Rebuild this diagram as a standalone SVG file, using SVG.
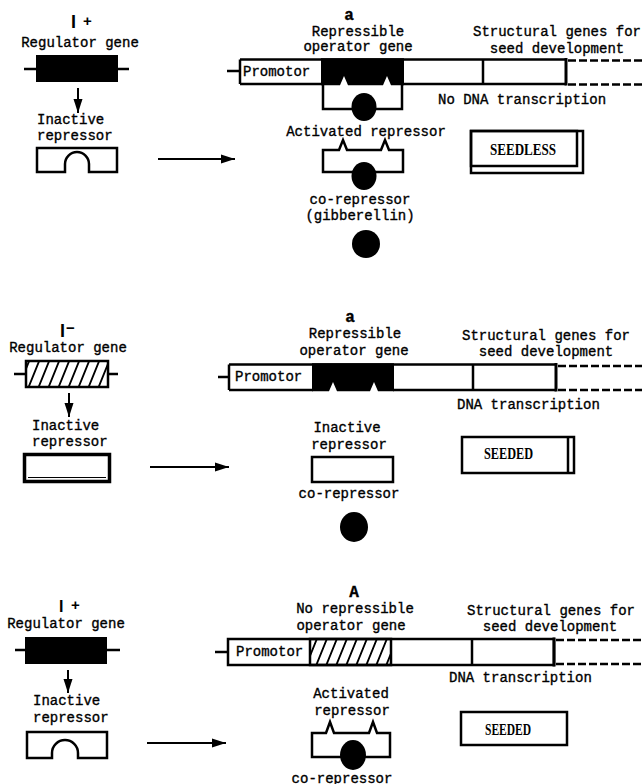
<svg xmlns="http://www.w3.org/2000/svg" width="642" height="784" viewBox="0 0 642 784">
<defs>
<style>
.t{font-family:"Liberation Mono","Courier New",monospace;font-size:14px;fill:#000;stroke:#000;stroke-width:0.35}
.m{text-anchor:middle}
.b{font-weight:bold;font-size:16px}
.g{font-family:"Liberation Sans",Arial,sans-serif;font-weight:bold;fill:#000}
.s{font-family:"Liberation Serif","Times New Roman",serif;font-weight:bold;font-size:16px;fill:#000}
.ln{fill:none;stroke:#000;stroke-width:2.5}
.bx{fill:#fff;stroke:#000;stroke-width:2.5}
.dsh{fill:none;stroke:#000;stroke-width:2.5;stroke-dasharray:8 3}
.cn{fill:none;stroke:#000;stroke-width:2}
</style>
<marker id="ah" markerUnits="userSpaceOnUse" markerWidth="14" markerHeight="10" refX="14" refY="5" orient="auto"><path d="M0,0.5 L14,5 L0,9.5 Z" fill="#000"/></marker>
<pattern id="hatch" width="10" height="10" patternUnits="userSpaceOnUse" patternTransform="skewX(-22)"><path d="M5,-1 V11" stroke="#000" stroke-width="2"/></pattern>
</defs>
<rect width="642" height="784" fill="#fff"/>

<!-- ================= Panel 1 ================= -->
<g id="p1-reg">
<text class="g" x="71" y="28" font-size="18">I<tspan x="83" y="26" font-size="15">+</tspan></text>
<text class="t m" x="80" y="47">Regulator gene</text>
<path class="ln" d="M24,69 H36 M118,69 H129"/>
<rect x="36" y="55" width="82" height="27" fill="#000"/>
</g>
<g id="p1-inrep">
<text class="t" x="37" y="124">Inactive</text>
<text class="t" x="37" y="140">repressor</text>
<path class="ln" d="M37,148 H117 V172 H89 V164 A12,12 0 0 0 65,164 V172 H37 Z"/>
</g>
<g id="p1-dna">
<text class="t m b" x="349" y="20">a</text>
<text class="t m" x="358" y="36">Repressible</text>
<text class="t m" x="358" y="51">operator gene</text>
<text class="t m" x="557" y="36">Structural genes for</text>
<text class="t m" x="557" y="53">seed development</text>
<path class="ln" d="M227,71 H240 M240,59.5 H566 M240,84 H322 M403,84 H566 M240,59.5 V84 M483,59.5 V84"/>
<path d="M566,58 V85.5" stroke="#000" stroke-width="3"/>
<path class="dsh" d="M568,60.5 H642 M568,84.5 H642"/>
<text class="t" x="243" y="76">Promotor</text>
<path d="M321,58.3 H404 V85.3 H391 L387,76 L383,85.3 H348 L344,76 L340,85.3 H321 Z" fill="#000"/>
<text class="t" x="438" y="104">No DNA transcription</text>
</g>
<g id="p1-bound">
<path class="ln" d="M323,84 V109 H402 V84"/>
<ellipse cx="364" cy="107" rx="12.5" ry="14" fill="#000"/>
</g>
<g id="p1-actrep">
<text class="t m" x="366" y="136">Activated repressor</text>
<path class="ln" d="M323,150 H339 L343,140 L347,150 H381 L385,140 L389,150 H403 V172 H323 Z"/>
<ellipse cx="364" cy="176" rx="12.5" ry="14" fill="#000"/>
</g>
<g id="p1-corep">
<text class="t m" x="360" y="204">co-repressor</text>
<text class="t m" x="360" y="220">(gibberellin)</text>
<ellipse cx="366" cy="244" rx="14" ry="14" fill="#000"/>
</g>
<g id="p1-result">
<rect class="ln" x="471" y="131" width="112" height="42"/>
<rect class="ln" x="471" y="131" width="106" height="35"/>
<text class="s" x="490" y="155" textLength="66" lengthAdjust="spacingAndGlyphs">SEEDLESS</text>
</g>

<!-- ================= Panel 2 ================= -->
<g id="p2-reg">
<text class="g" x="60" y="337" font-size="18">I<tspan x="66" y="333" font-size="15">−</tspan></text>
<text class="t m" x="68" y="352">Regulator gene</text>
<path class="ln" d="M14,374 H26 M108,374 H118"/>
<rect x="26" y="361" width="82" height="26" fill="url(#hatch)" stroke="#000" stroke-width="2.5"/>
</g>
<g id="p2-inrep">
<text class="t" x="32" y="430">Inactive</text>
<text class="t" x="32" y="446">repressor</text>
<rect x="24.5" y="454.5" width="85" height="27" fill="#fff" stroke="#000" stroke-width="3.5"/>
<path d="M28,477.5 H106" stroke="#000" stroke-width="1.2"/>
</g>
<g id="p2-dna">
<text class="t m b" x="350" y="322">a</text>
<text class="t m" x="355" y="338">Repressible</text>
<text class="t m" x="354" y="355">operator gene</text>
<text class="t m" x="546" y="340">Structural genes for</text>
<text class="t m" x="546" y="356">seed development</text>
<path class="ln" d="M218,377 H229 M229,364.5 H556 M229,390 H313 M393,390 H556 M229,364.5 V390 M473,364.5 V390"/>
<path d="M556,363 V391.5" stroke="#000" stroke-width="3"/>
<path class="dsh" d="M558,366 H642 M558,390 H642"/>
<text class="t" x="235" y="381">Promotor</text>
<path d="M312,363.3 H394 V391.3 H378 L374,382 L370,391.3 H337 L333,382 L329,391.3 H312 Z" fill="#000"/>
<text class="t" x="457" y="409">DNA transcription</text>
</g>
<g id="p2-inrep2">
<text class="t m" x="347" y="432">Inactive</text>
<text class="t m" x="349" y="449">repressor</text>
<rect class="ln" x="312" y="457" width="81" height="25"/>
</g>
<g id="p2-corep">
<text class="t m" x="349" y="498">co-repressor</text>
<ellipse cx="354" cy="527" rx="14" ry="15" fill="#000"/>
</g>
<g id="p2-result">
<rect class="ln" x="462" y="437" width="112" height="36"/>
<path class="ln" d="M568,437 V473"/>
<text class="s" x="484" y="459" textLength="49" lengthAdjust="spacingAndGlyphs">SEEDED</text>
</g>

<!-- ================= Panel 3 ================= -->
<g id="p3-reg">
<text class="g" x="59" y="612" font-size="16">I<tspan x="71" y="610" font-size="15">+</tspan></text>
<text class="t m" x="66" y="628">Regulator gene</text>
<path class="ln" d="M15,650 H25 M107,650 H120"/>
<rect x="25" y="637" width="82" height="27" fill="#000"/>
</g>
<g id="p3-inrep">
<text class="t" x="33" y="705">Inactive</text>
<text class="t" x="33" y="722">repressor</text>
<path class="ln" d="M27,732 H107 V758 H78 V753 A13,13 0 0 0 52,753 V758 H27 Z"/>
</g>
<g id="p3-dna">
<text class="t m b" x="354" y="597">A</text>
<text class="t m" x="355" y="613">No repressible</text>
<text class="t m" x="351" y="630">operator gene</text>
<text class="t m" x="551" y="615">Structural genes for</text>
<text class="t m" x="550" y="631">seed development</text>
<path class="ln" d="M215,652 H228"/>
<rect class="bx" x="228" y="639" width="326" height="26"/>
<rect x="310" y="639" width="81" height="26" fill="url(#hatch)" stroke="#000" stroke-width="2.5"/>
<path class="ln" d="M472,639 V665"/>
<path d="M554,637.5 V666.5" stroke="#000" stroke-width="3"/>
<path class="dsh" d="M556,640 H642 M556,664 H642"/>
<text class="t" x="236" y="656">Promotor</text>
<text class="t" x="449" y="682">DNA transcription</text>
</g>
<g id="p3-actrep">
<text class="t m" x="351" y="698">Activated</text>
<text class="t m" x="352" y="715">repressor</text>
<path class="ln" d="M312,733 H326 L330,722 L334,733 H369 L373,722 L377,733 H390 V757 H312 Z"/>
<ellipse cx="353" cy="755" rx="13" ry="15" fill="#000"/>
<text class="t m" x="342" y="783">co-repressor</text>
</g>
<g id="p3-result">
<rect class="ln" x="461" y="712" width="106" height="33"/>
<text class="s" x="485" y="735" textLength="46" lengthAdjust="spacingAndGlyphs">SEEDED</text>
</g>

<!-- ================= Connectors ================= -->
<g id="connectors" class="cn">
<path d="M78,88 V113" marker-end="url(#ah)"/>
<path d="M158,159 H235" marker-end="url(#ah)"/>
<path d="M69,393 V417" marker-end="url(#ah)"/>
<path d="M150,467 H229" marker-end="url(#ah)"/>
<path d="M68,670 V693" marker-end="url(#ah)"/>
<path d="M147,743 H226" marker-end="url(#ah)"/>
</g>
</svg>
